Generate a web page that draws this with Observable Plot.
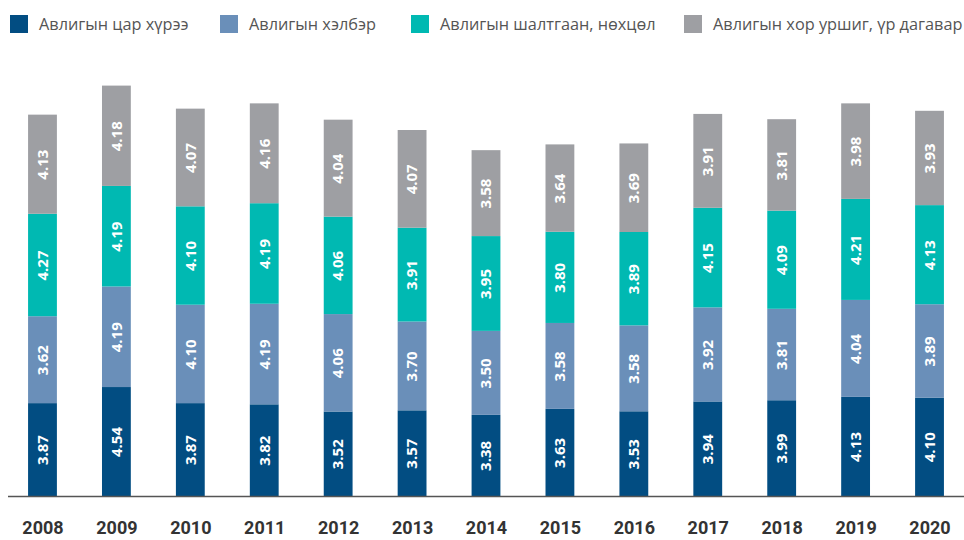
<!DOCTYPE html>
<html><head><meta charset="utf-8">
<script src="https://cdn.jsdelivr.net/npm/d3@7"></script>
<script src="https://cdn.jsdelivr.net/npm/@observablehq/plot@0.6"></script>
<style>
body{margin:0;background:#fff;width:964px;height:540px;overflow:hidden;font-family:"Open Sans",sans-serif;}
#legend{height:50px;position:relative;}
.item{position:absolute;top:13px;display:flex;align-items:center;font-size:16.3px;color:#555;white-space:nowrap;}
.sw{width:18px;height:18px;margin-right:11px;flex:none;}
#chart svg{display:block;}
</style></head>
<body>
<div id="legend"></div>
<div id="chart"></div>
<script>
const years = ["2008","2009","2010","2011","2012","2013","2014","2015","2016","2017","2018","2019","2020"];
const seriesNames = ["Авлигын цар хүрээ","Авлигын хэлбэр","Авлигын шалтгаан, нөхцөл","Авлигын хор уршиг, үр дагавар"];
const colors = ["#024d82","#6a8fb9","#00b9b2","#9e9fa3"];
const scope = [3.87,4.54,3.87,3.82,3.52,3.57,3.38,3.63,3.53,3.94,3.99,4.13,4.10];
const form = [3.62,4.19,4.10,4.19,4.06,3.70,3.50,3.58,3.58,3.92,3.81,4.04,3.89];
const cause = [4.27,4.19,4.10,4.19,4.06,3.91,3.95,3.80,3.89,4.15,4.09,4.21,4.13];
const harm = [4.13,4.18,4.07,4.16,4.04,4.07,3.58,3.64,3.69,3.91,3.81,3.98,3.93];
const legendX = [10,220,411,684];

const seriesVals = [scope, form, cause, harm];
const data = [];
seriesNames.forEach((s, si) => years.forEach((y, i) => data.push({year: y, series: s, value: seriesVals[si][i]})));

const leg = document.getElementById("legend");
seriesNames.forEach((s, i) => {
  const d = document.createElement("div");
  d.className = "item";
  d.style.left = legendX[i] + "px";
  d.innerHTML = `<span class="sw" style="background:${colors[i]}"></span><span>${s}</span>`;
  leg.appendChild(d);
});

const chart = Plot.plot({
  width: 964, height: 490,
  marginLeft: 8, marginRight: 0, marginTop: 14, marginBottom: 44,
  x: {domain: years, paddingInner: 0.61, paddingOuter: 0.2715, round: false, label: null},
  y: {domain: [0, 18], axis: null},
  color: {domain: seriesNames, range: colors},
  style: {fontFamily: "'Open Sans', sans-serif", background: "white"},
  marks: [
    Plot.barY(data, {x: "year", y: "value", fill: "series", z: "series", order: seriesNames}),
    Plot.text(data, Plot.stackY({x: "year", y: "value", z: "series", order: seriesNames, text: d => d.value.toFixed(2), rotate: -90, fill: "white", fontWeight: "bold", fontSize: 15})),
    Plot.ruleY([0], {stroke: "#555", strokeWidth: 1.5}),
    Plot.axisX({tickSize: 0, tickPadding: 25, fontSize: 18, fontWeight: "bold", fill: "#333", fontFamily: "Roboto, sans-serif", label: null})
  ]
});
document.getElementById("chart").appendChild(chart);
</script>
</body></html>
